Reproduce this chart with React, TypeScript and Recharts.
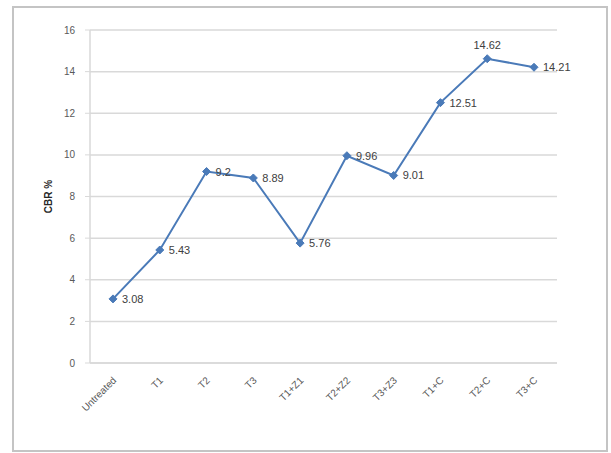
import React from "react"
import { LineChart, Line, XAxis, YAxis, CartesianGrid, LabelList } from "recharts"

const categories = ["Untreated", "T1", "T2", "T3", "T1+Z1", "T2+Z2", "T3+Z3", "T1+C", "T2+C", "T3+C"]
const cbrValues = [3.08, 5.43, 9.2, 8.89, 5.76, 9.96, 9.01, 12.51, 14.62, 14.21]
const yTicks = [0, 2, 4, 6, 8, 10, 12, 14, 16]

const data = categories.map((name, i) => ({ name, cbr: cbrValues[i] }))

const FONT = "'Liberation Sans', Arial, sans-serif"
const LINE = "#4a7ab8"

function Diamond(props: any) {
  const { cx, cy } = props
  if (cx == null || cy == null) return null
  const r = 4
  return (
    <polygon
      points={`${cx},${cy - r} ${cx + r},${cy} ${cx},${cy + r} ${cx - r},${cy}`}
      fill={LINE}
      stroke={LINE}
    />
  )
}

function XTick(props: any) {
  const { x, y, payload } = props
  return (
    <text
      x={x + 4}
      y={y + 10}
      textAnchor="end"
      fontSize={10}
      fill="#595959"
      fontFamily={FONT}
      transform={`rotate(-45, ${x + 4}, ${y + 10})`}
    >
      {payload.value}
    </text>
  )
}

function PointLabel(props: any) {
  const { x, y, value, index } = props
  const above = index === 8
  return (
    <text
      x={above ? x : x + 9}
      y={above ? y - 10 : y + 4}
      textAnchor={above ? "middle" : "start"}
      fontSize={11}
      fill="#404040"
      fontFamily={FONT}
    >
      {value}
    </text>
  )
}

export default function App() {
  return (
    <div style={{ position: "absolute", left: 0, top: 0, width: 611, height: 453, background: "#fff" }}>
      <div
        style={{
          position: "absolute",
          left: 12,
          top: 6,
          width: 596,
          height: 446,
          border: "2px solid #c4c4c4",
          boxSizing: "border-box",
        }}
      />
      <div style={{ position: "absolute", left: 0, top: 0 }}>
        <LineChart width={611} height={453} data={data} margin={{ top: 30, right: 54, bottom: 0, left: 0 }}>
          <CartesianGrid vertical={false} stroke="#d9d9d9" strokeWidth={1.5} />
          <XAxis
            dataKey="name"
            interval={0}
            tick={<XTick />}
            axisLine={{ stroke: "#d9d9d9", strokeWidth: 1.5 }}
            tickLine={false}
            height={90}
            padding={{ left: 23, right: 23 }}
          />
          <YAxis
            width={90}
            domain={[0, 16]}
            ticks={yTicks}
            interval={0}
            tick={{ fontSize: 10, fill: "#595959", fontFamily: FONT, dx: -8 }}
            axisLine={{ stroke: "#d9d9d9", strokeWidth: 1.5 }}
            tickLine={{ stroke: "#d9d9d9" }}
            tickSize={5}
            label={{
              value: "CBR %",
              angle: -90,
              position: "insideLeft",
              offset: 48,
              style: { fontSize: 10, fontWeight: "bold", fill: "#262626", fontFamily: FONT, textAnchor: "middle" },
            }}
          />
          <Line
            type="linear"
            dataKey="cbr"
            stroke={LINE}
            strokeWidth={2}
            dot={<Diamond />}
            activeDot={false}
            isAnimationActive={false}
          >
            <LabelList dataKey="cbr" content={<PointLabel />} />
          </Line>
        </LineChart>
      </div>
    </div>
  )
}
